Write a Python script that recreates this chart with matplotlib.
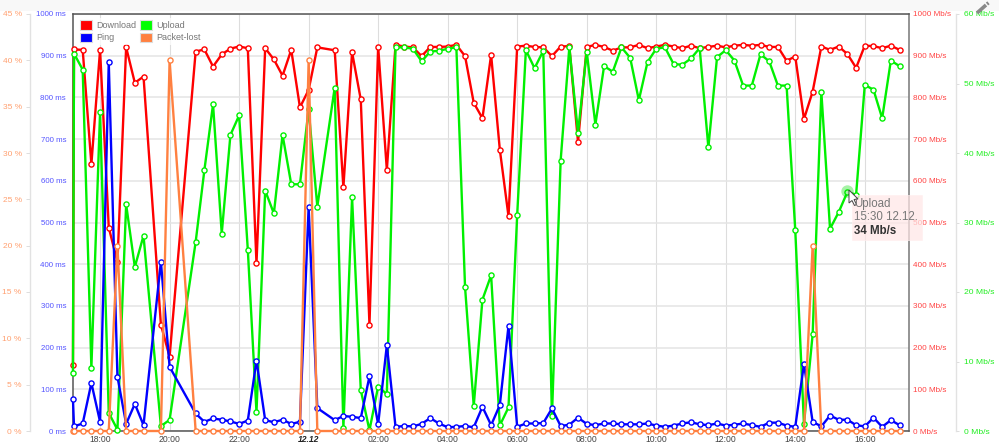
import numpy as np
import matplotlib
matplotlib.use("Agg")
import matplotlib.pyplot as plt
from matplotlib.patches import Patch, Rectangle, Polygon, Circle
from matplotlib.lines import Line2D

plt.rcParams['font.family'] = ['Liberation Sans', 'DejaVu Sans']

W, H = 999, 447
# time in hours since 00:00 of 11.12. (None values are gaps in the record)
times = [17.22] + [17.25 + 0.25 * k for k in range(96)]
download = [158, 915,914,640,914,488,405,920,835,850,None,255,178,None,None,910,915,874,903,917,922,918,402,918,891,852,914,776,818,920,None,913,584,908,795,255,922,626,926,922,920,899,921,921,922,926,899,787,750,902,675,515,922,924,921,920,899,922,923,693,921,926,921,912,920,920,926,918,922,926,922,918,924,918,921,924,920,924,926,924,926,921,921,888,898,748,814,922,914,922,904,871,924,923,918,924,914]
upload = [8.4, 54.3,52.0,9.1,45.9,2.6,0.2,32.6,23.6,28.1,None,0.7,1.6,None,None,27.2,37.5,47,28.4,42.6,45.4,26.1,2.7,34.6,31.3,42.6,35.5,35.5,46.3,32.3,None,49.4,0.5,33.6,5.9,0.1,6.4,5.3,55.2,55.2,55,53.2,54.6,54.7,55,55.2,20.7,3.6,18.9,22.4,0.8,3.4,31.1,54.8,52.2,54.7,2.1,38.9,55.2,42.9,54.6,44.1,52.5,51.7,55.2,53.7,47.6,53.1,55,55.2,52.8,52.7,53.6,55.1,40.8,53.8,54.8,53.3,49.7,49.7,54.2,53.2,49.7,49.7,28.9,1,13.9,48.8,29.1,31.5,34.4,34,49.8,49.1,45,53.3,52.5]
ping = [76, 11,18,115,22,884,130,17,65,14,None,406,154,None,None,42,22,30,27,23,17,25,169,26,21,27,17,22,537,55,None,26,36,34,31,131,16,206,10,12,11,17,31,18,9,10,12,9,58,14,62,252,10,18,18,19,54,12,15,32,17,14,18,18,16,16,16,18,13,10,13,18,21,16,14,18,13,15,18,14,10,20,20,13,10,161,22,11,37,27,27,14,11,32,10,26,14]
packet_lost = [0, 0,0,0,0,0,20,0,0,0,None,0,40,None,None,0,0,0,0,0,0,0,0,0,0,0,0,0,40,0,None,0,0,0,0,0,0,0,0,0,0,0,0,0,0,0,0,0,0,0,0,0,0,0,0,0,0,0,0,0,0,0,0,0,0,0,0,0,0,0,0,0,0,0,0,0,0,0,0,0,0,0,0,0,0,0,20,0,0,0,0,0,0,0,0,0,0]

x_ticks = [18, 20, 22, 24, 26, 28, 30, 32, 34, 36, 38, 40]
x_labels = ['18:00', '20:00', '22:00', '12.12', '02:00', '04:00', '06:00', '08:00', '10:00', '12:00', '14:00', '16:00']
ms_ticks = list(range(0, 1001, 100))
mbps_ticks = list(range(0, 1001, 100))
up_ticks = list(range(0, 61, 10))
pct_ticks = list(range(0, 46, 5))

RED, GREEN, BLUE, ORANGE = '#ff0000', '#00f000', '#0000ff', '#ff8040'
L, R, T, B = 73, 909, 14, 431

fig = plt.figure(figsize=(W / 100, H / 100), dpi=100, facecolor='white')
fig.add_artist(Rectangle((0, 1 - 11 / H), 1, 11 / H, transform=fig.transFigure, fc='#f8f8f8', ec='none'))
ax = fig.add_axes([L / W, 1 - B / H, (R - L) / W, (B - T) / H])

x0 = 17.25 - 1 / 34.76
x1 = x0 + (R - L) / 34.76


def series(axis, values, color, z):
    xs = [t for t, v in zip(times, values) if v is not None]
    ys = [v for v in values if v is not None]
    line, = axis.plot(xs, ys, color=color, lw=1.7, marker='o', ms=3.7, mfc='white', mec=color,
                      mew=1.0, clip_on=False, zorder=z, solid_joinstyle='miter')
    return line


ax.set_xlim(x0, x1)
ax.set_ylim(0, 1000)
ax.set_xticks(x_ticks)
ax.set_xticklabels(x_labels, fontsize=6.2, color='#444444')
ax.get_xticklabels()[3].set_fontweight('bold')
ax.get_xticklabels()[3].set_fontstyle('italic')
ax.get_xticklabels()[3].set_color('#222222')
ax.tick_params(axis='x', length=0, pad=3)
ax.yaxis.grid(True, color='#e4e4e4', lw=1.1)
ax.xaxis.grid(True, color='#dddddd', lw=0.8)
ax.set_axisbelow(True)
for s, c in (('top', '#555555'), ('left', '#555555'), ('bottom', '#555555'), ('right', '#777777')):
    ax.spines[s].set_color(c)
    ax.spines[s].set_linewidth(1.1)
line_dl = series(ax, download, RED, 3)


def twin(lim, z):
    a = ax.twinx()
    a.set_ylim(0, lim)
    a.set_zorder(z)
    a.patch.set_visible(False)
    for s in a.spines.values():
        s.set_visible(False)
    return a


ax_up = twin(60, 2)
ax_up.spines['right'].set_visible(True)
ax_up.spines['right'].set_position(('outward', (956 - R) * 0.72))
ax_up.spines['right'].set_color('#e2e2e2')
ax_up.spines['right'].set_linewidth(1.0)
ax_up.set_yticks(up_ticks)
ax_up.set_yticklabels([f'{v} Mb/s' for v in up_ticks])
ax_up.tick_params(axis='y', length=2, width=0.7, color='#dddddd', pad=3.5, labelsize=6.1, labelcolor='#22ee22')
line_up = series(ax_up, upload, GREEN, 3)

ax_ms = twin(1000, 3)
ax_ms.yaxis.tick_left()
ax_ms.set_yticks(ms_ticks)
ax_ms.set_yticklabels([f'{v} ms' for v in ms_ticks])
ax_ms.tick_params(axis='y', length=0, pad=5, labelsize=5.7, labelcolor='#5555ff')
line_pg = series(ax_ms, ping, BLUE, 3)

ax_pk = twin(45, 4)
ax_pk.spines['left'].set_visible(True)
ax_pk.spines['left'].set_position(('outward', (L - 30) * 0.72))
ax_pk.spines['left'].set_color('#e2e2e2')
ax_pk.spines['left'].set_linewidth(1.0)
ax_pk.yaxis.tick_left()
ax_pk.set_yticks(pct_ticks)
ax_pk.set_yticklabels([f'{v} %' for v in pct_ticks])
ax_pk.tick_params(axis='y', length=3, width=0.7, color='#dddddd', pad=3, labelsize=6.0, labelcolor='#ffa070')
line_pk = series(ax_pk, packet_lost, ORANGE, 3)

# twinx moved the host's labels to the left: Download's scale belongs on the right
ax.yaxis.tick_right()
ax.set_yticks(mbps_ticks)
ax.set_yticklabels([f'{v} Mb/s' for v in mbps_ticks])
ax.tick_params(axis='y', length=0, pad=3, labelsize=5.9, labelcolor='#ff4444')

handles = [Patch(fc=RED, ec='#dddddd', lw=0.8, label='Download'),
           Patch(fc=BLUE, ec='#dddddd', lw=0.8, label='Ping'),
           Patch(fc='#00ff00', ec='#dddddd', lw=0.8, label='Upload'),
           Patch(fc=ORANGE, ec='#dddddd', lw=0.8, label='Packet-lost')]
leg = ax_pk.legend(handles=handles, ncol=2, loc='upper left', bbox_to_anchor=(4.3 / (R - L), 1 - 3.5 / (B - T)),
                   borderaxespad=0, frameon=True, facecolor='white', edgecolor='none', framealpha=0.75,
                   fontsize=6.5, labelcolor='#777777', handlelength=1.33, handleheight=1.25,
                   handletextpad=0.45, columnspacing=0.4, labelspacing=0.28, borderpad=0.3, fancybox=False)
leg.set_zorder(20)

# overlay, in pixels from the top-left corner
ov = fig.add_axes([0, 0, 1, 1], zorder=10)
ov.set_xlim(0, W)
ov.set_ylim(H, 0)
ov.axis('off')
ov.add_patch(Circle((847.5, 191.5), 6.2, fc='#00dd00', ec='none', alpha=0.35))
ov.add_patch(Rectangle((851.5, 195), 70, 45, fc='#ffe6e6', ec='#fff0f0', lw=0.6, alpha=0.72))
ov.text(854, 204, 'Upload', fontsize=8.3, color='#777777', va='center')
ov.text(854, 217.5, '15:30 12.12.', fontsize=8.3, color='#777777', va='center')
ov.text(854, 231, '34 Mb/s', fontsize=8.3, color='#333333', weight='bold', va='center')
ov.add_patch(Polygon([(849, 190), (849, 203), (852, 200.5), (854.5, 205.5), (856.5, 204.5), (854, 199.5), (858, 199)],
                     fc='white', ec='#444444', lw=0.7))
ov.add_line(Line2D([977, 986], [13, 5], color='#888888', lw=2.6, solid_capstyle='butt'))
ov.add_line(Line2D([987, 988.5], [4, 2.8], color='#888888', lw=2.6, solid_capstyle='butt'))

fig.savefig('out.png', dpi=100)
